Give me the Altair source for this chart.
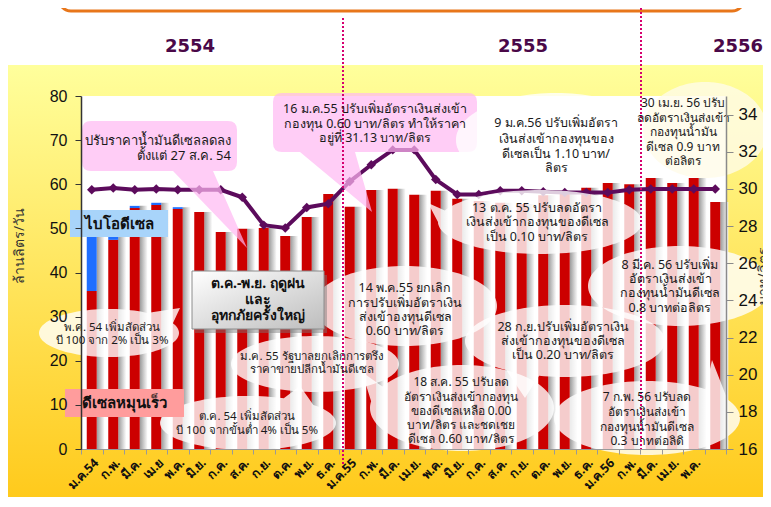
import math
import altair as alt
import pandas as pd

# ------------------------------------------------------------------ data
month_labels = ["ม.ค.54", "ก.พ.", "มี.ค.", "เม.ย", "พ.ค.", "มิ.ย.", "ก.ค.", "ส.ค.", "ก.ย.", "ต.ค.",
                "พ.ย.", "ธ.ค.", "ม.ค.55", "ก.พ.", "มี.ค.", "เม.ย.", "พ.ค.", "มิ.ย.", "ก.ค.", "ส.ค.",
                "ก.ย.", "ต.ค.", "พ.ย.", "ธ.ค.", "ม.ค.56", "ก.พ.", "มี.ค.", "เม.ย.", "พ.ค.", ""]
diesel = [35.8, 47.4, 54.6, 55.3, 54.4, 53.7, 49.2, 49.9, 50.1, 48.3,
          52.6, 57.8, 54.9, 58.7, 59.0, 57.6, 58.5, 56.7, 56.2, 55.8,
          55.5, 57.5, 58.0, 59.2, 60.3, 60.0, 61.4, 60.3, 61.4, 56.0]
biodiesel = [14.0, 3.0, 0.5, 0.5, 0.4, 0.0, 0.0, 0.0, 0.0, 0.0,
             0.0, 0.0, 0.0, 0.0, 0.0, 0.0, 0.0, 0.0, 0.0, 0.0,
             0.0, 0.0, 0.0, 0.0, 0.0, 0.0, 0.0, 0.0, 0.0, 0.0]
price = [29.95, 30.05, 29.95, 30.0, 29.95, 29.95, 29.95, 29.55, 28.05, 27.9,
         29.0, 29.2, 30.4, 31.3, 32.1, 32.1, 30.5, 29.7, 29.7, 29.9,
         29.9, 29.85, 29.8, 29.8, 29.8, 29.95, 30.0, 30.0, 30.0, 30.0]
year_labels = ["2554", "2555", "2556"]
left_title = "ล้านลิตร/วัน"
right_title = "บาท/ลิตร"
box_labels = ["ไบโอดีเซล", "ดีเซลหมุนเร็ว"]
flood_label = ["ต.ค.-พ.ย. ฤดูฝน", "และ", "อุทกภัยครั้งใหญ่"]
note_texts = [
    ["ปรับราคาน้ำมันดีเซลลดลง", "ตั้งแต่ 27 ส.ค. 54"],
    ["16 ม.ค.55 ปรับเพิ่มอัตราเงินส่งเข้า", "กองทุน 0.60 บาท/ลิตร ทำให้ราคา", "อยู่ที่ 31.13 บาท/ลิตร"],
    ["พ.ค. 54 เพิ่มสัดส่วน", "บี 100 จาก 2% เป็น 3%"],
    ["ต.ค. 54 เพิ่มสัดส่วน", "บี 100 จากขั้นต่ำ  4%  เป็น 5%"],
    ["ม.ค. 55 รัฐบาลยกเลิกการตรึง", "ราคาขายปลีกน้ำมันดีเซล"],
    ["14 พ.ค.55 ยกเลิก", "การปรับเพิ่มอัตราเงิน", "ส่งเข้าองทุนดีเซล", "0.60 บาท/ลิตร"],
    ["18 ส.ค. 55 ปรับลด", "อัตราเงินส่งเข้ากองทุน", "ของดีเซลเหลือ 0.00", "บาท/ลิตร และชดเชย", "ดีเซล 0.60 บาท/ลิตร"],
    ["9 ม.ค.56 ปรับเพิ่มอัตรา", "เงินส่งเข้ากองทุนของ", "ดีเซลเป็น 1.10 บาท/", "ลิตร"],
    ["30 เม.ย. 56 ปรับ", "ลดอัตราเงินส่งเข้า", "กองทุนน้ำมัน", "ดีเซล 0.9 บาท", "ต่อลิตร"],
    ["13 ต.ค. 55 ปรับลดอัตรา", "เงินส่งเข้ากองทุนของดีเซล", "เป็น 0.10 บาท/ลิตร"],
    ["28 ก.ย.ปรับเพิ่มอัตราเงิน", "ส่งเข้ากองทุนของดีเซล", "เป็น 0.20 บาท/ลิตร"],
    ["8 มี.ค. 56 ปรับเพิ่ม", "อัตราเงินส่งเข้า", "กองทุนน้ำมันดีเซล", "0.8 บาทต่อลิตร"],
    ["7 ก.พ. 56 ปรับลด", "อัตราเงินส่งเข้า", "กองทุนน้ำมันดีเซล", "0.3 บาทต่อลิดิ"],
]

# ------------------------------------------------------------------ layout (page pixels)
W, H = 645, 353          # plot area
X0, Y0 = 81, 96          # page position of the plot origin
PAD = {"left": 73, "top": 88, "right": 37, "bottom": 48}
THAI = "Tahoma, 'Noto Sans', 'DejaVu Sans', sans-serif"
TXT = "#1a1a1a"

note_layout = [  # (x, [line y], font size, align)
    (231, [141, 156], 13, "right"),
    (375, [109, 123.5, 138], 12.5, "center"),
    (112, [328, 341], 11.5, "center"),
    (247, [417, 431], 11.5, "center"),
    (312, [357, 370], 11.5, "center"),
    (405, [288, 303, 317, 331], 12.5, "center"),
    (461, [382, 397, 411, 425, 439], 12, "center"),
    (556, [123, 139, 154, 168], 12.5, "center"),
    (683, [103, 118, 132, 147, 161], 12, "center"),
    (537, [208, 222, 237], 12.5, "center"),
    (563, [327, 341, 355], 12.5, "center"),
    (670, [265, 279, 293, 308], 12.5, "center"),
    (647, [397, 412, 427, 441], 12, "center"),
]


def P(x, y):
    return f"{x - X0:.1f},{y - Y0:.1f}"


def ellipse_path(cx, cy, rx, ry, tail=None):
    pts, done = [], False
    for k in range(0, 360, 3):
        if tail is not None:
            d = (k - tail[0] + 180) % 360 - 180
            if abs(d) <= tail[1]:
                if not done:
                    pts.append((tail[2], tail[3]))
                    done = True
                continue
        t = math.radians(k)
        pts.append((cx + rx * math.cos(t), cy + ry * math.sin(t)))
    return "M" + " L".join(P(x, y) for x, y in pts) + " Z"


def box_path(x0, y0, x1, y1, r, tail=None):
    s = [f"M{P(x0 + r, y0)}", f"L{P(x1 - r, y0)}", f"Q{P(x1, y0)} {P(x1, y0 + r)}",
         f"L{P(x1, y1 - r)}", f"Q{P(x1, y1)} {P(x1 - r, y1)}"]
    if tail:
        bl, br, tx, ty = tail
        s += [f"L{P(br, y1)}", f"L{P(tx, ty)}", f"L{P(bl, y1)}"]
    s += [f"L{P(x0 + r, y1)}", f"Q{P(x0, y1)} {P(x0, y1 - r)}", f"L{P(x0, y0 + r)}",
          f"Q{P(x0, y0)} {P(x0 + r, y0)}", "Z"]
    return " ".join(s)


PINK, WHITE, CREAM = "#ffb8f2", "#ffffff", "#fffbe8"
bubbles = [
    (box_path(82, 121, 237, 171, 9, (173, 213, 247, 248)), PINK, 0.7),
    (box_path(273, 93, 477, 152, 9, (300, 355, 372, 212)), PINK, 0.7),
    (ellipse_path(109, 333, 70, 24, (320, 14, 180, 308)), WHITE, 0.8),
    (ellipse_path(248, 423, 88, 27, (305, 10, 300, 386)), WHITE, 0.8),
    (ellipse_path(315, 364, 84, 28), WHITE, 0.8),
    (ellipse_path(405, 306, 92, 40), WHITE, 0.8),
    (ellipse_path(462, 408, 92, 43, (200, 9, 362, 372)), WHITE, 0.8),
    (ellipse_path(540, 222, 102, 32, (190, 9, 428, 203)), WHITE, 0.8),
    (ellipse_path(565, 341, 100, 36, (115, 9, 525, 398)), WHITE, 0.8),
    (ellipse_path(647, 418, 93, 37, (320, 9, 712, 360)), WHITE, 0.8),
    (ellipse_path(680, 286, 92, 40), WHITE, 0.8),
    (ellipse_path(556, 140, 100, 47), WHITE, 0.8),
    (ellipse_path(705, 130, 62, 48), CREAM, 0.8),
]

# ------------------------------------------------------------------ tables
df = pd.DataFrame({"idx": list(range(len(diesel))), "diesel": diesel, "bio": biodiesel, "price": price})
df["total"] = df["diesel"] + df["bio"]
one = pd.DataFrame({"a": [0]})

note_rows = []
for lines, (x, ys, fs, al) in zip(note_texts, note_layout):
    for line, y in zip(lines, ys):
        note_rows.append({"px": x - X0, "py": y - Y0, "text": line, "fs": fs, "al": al})
notes_df = pd.DataFrame(note_rows)

bub_df = pd.DataFrame([{"path": p, "fill": f, "op": o} for p, f, o in bubbles])

bold_rows = [
    {"px": 119 - X0, "py": 224 - Y0, "text": box_labels[0], "fs": 15},
    {"px": 124 - X0, "py": 403 - Y0, "text": box_labels[1], "fs": 15},
]
for line, y in zip(flood_label, [284, 300, 316]):
    bold_rows.append({"px": 258 - X0, "py": y - Y0, "text": line, "fs": 14})
bold_df = pd.DataFrame(bold_rows)

year_df = pd.DataFrame({"text": year_labels, "px": [190 - X0, 523 - X0, 738 - X0], "py": [47 - Y0] * 3})

# ------------------------------------------------------------------ encodings
label_expr = "[" + ",".join("'" + m + "'" for m in month_labels) + "][datum.value]"
XSCALE = alt.Scale(domain=list(range(len(diesel))), paddingInner=0, paddingOuter=0)
XAXIS = alt.Axis(title=None, labelExpr=label_expr, labelAngle=-45, labelFontSize=12.5,
                 labelFontWeight="bold", labelColor="#111", labelFont=THAI, domainColor="#999",
                 tickColor="#999", tickSize=5, tickBand="extent", labelPadding=2,
                 labelOverlap=False, grid=False, zindex=1)
XB = alt.X("idx:O", scale=XSCALE, axis=XAXIS)
YL = alt.Scale(domain=[0, 80], nice=False)
YR = alt.Scale(domain=[16, 35], nice=False, zero=False)
LEFT_AXIS = alt.Axis(orient="left", values=list(range(0, 81, 10)), title=None, labelFontSize=16,
                     labelColor="#111", labelFont="Liberation Sans", domainColor="#333",
                     domainWidth=1.5, tickColor="#333", tickSize=6, labelPadding=8, grid=False, zindex=1)
RIGHT_AXIS = alt.Axis(orient="right", values=list(range(16, 35, 2)), title=None, labelFontSize=17,
                      labelColor="#111", labelFont="Liberation Sans", domainColor="#8a8a8a",
                      domainWidth=1.5, tickColor="#8a8a8a", tickSize=7, labelPadding=5, grid=False, zindex=1)

def vgrad(c0, c1, horizontal=False):
    return {"gradient": "linear", "x1": 0, "y1": 0, "x2": 1 if horizontal else 0, "y2": 0 if horizontal else 1,
            "stops": [{"offset": 0, "color": c0}, {"offset": 1, "color": c1}]}

# ------------------------------------------------------------------ layers
banner = alt.Chart(one).mark_rect(fill="white", stroke="#e8761a", strokeWidth=3, cornerRadius=12).encode(
    x=alt.value(-22), x2=alt.value(663), y=alt.value(-120), y2=alt.value(-85))
bg = alt.Chart(one).mark_rect(color=vgrad("#ffff9c", "#ffca1c")).encode(
    x=alt.value(8 - X0), x2=alt.value(W + PAD["right"]), y=alt.value(65 - Y0), y2=alt.value(H + PAD["bottom"]))
plot_bg = alt.Chart(one).mark_rect(color="white").encode(
    x=alt.value(0), x2=alt.value(W), y=alt.value(0), y2=alt.value(H))

base = alt.Chart(df)
shadow = base.mark_bar(width=8, xOffset=9, color=vgrad("#9a9a9a", "#ffffff", True)).encode(
    x=XB, y=alt.Y("total:Q", scale=YL, axis=None))
red = base.mark_bar(width=10, color="#cc0000").encode(
    x=XB, y=alt.Y("diesel:Q", scale=YL, axis=LEFT_AXIS))
blue = base.mark_bar(width=10, color="#1f6fff").encode(
    x=XB, y=alt.Y("diesel:Q", scale=YL, axis=None), y2="total:Q")
line = base.mark_line(color="#5c0b5c", strokeWidth=4).encode(
    x=XB, y=alt.Y("price:Q", scale=YR, axis=RIGHT_AXIS))
pts = base.mark_point(shape="diamond", filled=True, size=90, color="#5c0b5c", opacity=1).encode(
    x=XB, y=alt.Y("price:Q", scale=YR, axis=None))

shapes = alt.Chart(bub_df).mark_point(size=4, filled=True, strokeWidth=0).encode(
    x=alt.value(0), y=alt.value(0),
    shape=alt.Shape("path:N", scale=None, legend=None),
    color=alt.Color("fill:N", scale=None, legend=None),
    opacity=alt.Opacity("op:Q", scale=None, legend=None))

bio_box = alt.Chart(one).mark_rect(color="#a8d4fa").encode(
    x=alt.value(70 - X0), x2=alt.value(168 - X0), y=alt.value(210 - Y0), y2=alt.value(237 - Y0))
hsd_box = alt.Chart(one).mark_rect(color="#ff9c9c").encode(
    x=alt.value(65 - X0), x2=alt.value(184 - X0), y=alt.value(389 - Y0), y2=alt.value(417 - Y0))
flood_shadow = alt.Chart(one).mark_rect(color="#777777", opacity=0.45).encode(
    x=alt.value(195 - X0), x2=alt.value(327 - X0), y=alt.value(275 - Y0), y2=alt.value(333 - Y0))
flood_box = alt.Chart(one).mark_rect(color={"gradient": "linear", "x1": 0, "y1": 0, "x2": 1, "y2": 1,
                                            "stops": [{"offset": 0, "color": "#ffffff"},
                                                      {"offset": 1, "color": "#bdbdbd"}]},
                                     stroke="#8c8c8c", strokeWidth=1).encode(
    x=alt.value(192 - X0), x2=alt.value(324 - X0), y=alt.value(271 - Y0), y2=alt.value(329 - Y0))

rule1 = alt.Chart(one).mark_rule(color="#d6006f", strokeWidth=2, strokeDash=[2, 2]).encode(
    x=alt.value(343 - X0), y=alt.value(18 - Y0), y2=alt.value(470 - Y0))
rule2 = alt.Chart(one).mark_rule(color="#d6006f", strokeWidth=2, strokeDash=[2, 2]).encode(
    x=alt.value(641 - X0), y=alt.value(8 - Y0), y2=alt.value(450 - Y0))

TX = alt.X("px:Q", scale=None, axis=None)
TY = alt.Y("py:Q", scale=None, axis=None)
notes_c = alt.Chart(notes_df).transform_filter("datum.al == 'center'").mark_text(
    font=THAI, color=TXT, align="center", baseline="middle").encode(
    x=TX, y=TY, text="text:N", size=alt.Size("fs:Q", scale=None, legend=None))
notes_r = alt.Chart(notes_df).transform_filter("datum.al == 'right'").mark_text(
    font=THAI, color=TXT, align="right", baseline="middle").encode(
    x=TX, y=TY, text="text:N", size=alt.Size("fs:Q", scale=None, legend=None))
bold_txt = alt.Chart(bold_df).mark_text(font=THAI, color="#111", fontWeight="bold", align="center",
                                        baseline="middle").encode(
    x=TX, y=TY, text="text:N", size=alt.Size("fs:Q", scale=None, legend=None))
years = alt.Chart(year_df).mark_text(font="DejaVu Sans", fontWeight="bold", fontSize=18, color="#4a0848",
                                     align="center", baseline="middle").encode(x=TX, y=TY, text="text:N")
ltitle = alt.Chart(one).mark_text(text=left_title, font=THAI, fontSize=14, color="#333", angle=270,
                                  align="center", baseline="middle").encode(
    x=alt.value(20 - X0), y=alt.value(246 - Y0))
rtitle = alt.Chart(one).mark_text(text=right_title, font=THAI, fontSize=14, color="#333", angle=270,
                                  align="center", baseline="middle").encode(
    x=alt.value(764 - X0), y=alt.value(276 - Y0))

chart = alt.layer(
    banner, bg, plot_bg, shadow, red, blue, line, pts,
    shapes, bio_box, hsd_box, flood_shadow, flood_box, rule1, rule2,
    notes_c, notes_r, bold_txt, years, ltitle, rtitle,
).resolve_scale(y="independent").properties(
    width=W, height=H, padding=PAD, autosize="none", background="white"
).configure_view(stroke=None)

chart.save("out.html", embed_options={"renderer": "svg", "actions": False})
